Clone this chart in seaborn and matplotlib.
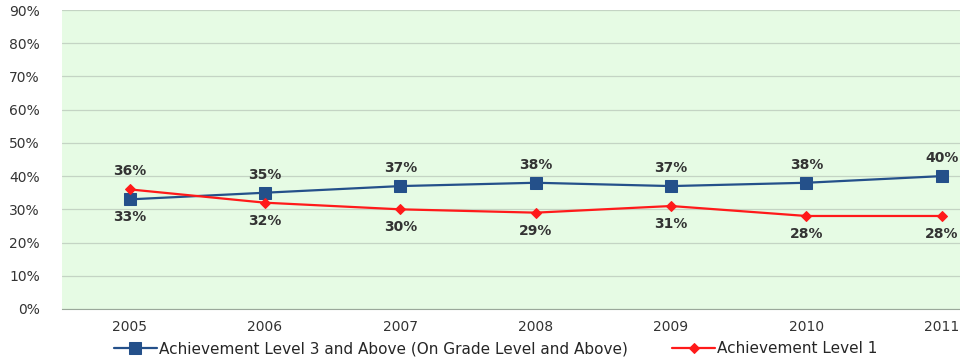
import pandas as pd
import matplotlib.pyplot as plt
import seaborn as sns
from matplotlib.ticker import PercentFormatter

years = ["2005", "2006", "2007", "2008", "2009", "2010", "2011"]
level3 = [33, 35, 37, 38, 37, 38, 40]
level1 = [36, 32, 30, 29, 31, 28, 28]
name3 = "Achievement Level 3 and Above (On Grade Level and Above)"
name1 = "Achievement Level 1"

data = pd.DataFrame({"Year": years, name3: level3, name1: level1})
data["pos"] = range(len(years))

sns.set_style("white")
plt.rcParams["font.family"] = ["DejaVu Sans"]

fig = plt.figure(figsize=(9.6, 3.58), dpi=100)
ax = fig.add_axes([62 / 960, 1 - 309 / 358, (960 - 62) / 960, 299 / 358])
ax.set_facecolor("#e6fbe4")

blue = "#24508a"
red = "#ff1a1a"
sns.lineplot(data=data, x="pos", y=name3, ax=ax, color=blue, marker="s",
             markersize=8, linewidth=1.6, markeredgecolor=blue, label=name3)
sns.lineplot(data=data, x="pos", y=name1, ax=ax, color=red, marker="D",
             markersize=5, linewidth=1.6, markeredgecolor=red, label=name1)

# data labels: the higher line gets labels above, the lower one below
for i in range(len(years)):
    a, b = level3[i], level1[i]
    up3 = a >= b
    ax.annotate(f"{a}%", (i, a), xytext=(0, 8 if up3 else -8), textcoords="offset points",
                ha="center", va="bottom" if up3 else "top", fontsize=10,
                fontweight="bold", color="#333333")
    ax.annotate(f"{b}%", (i, b), xytext=(0, -8 if up3 else 8), textcoords="offset points",
                ha="center", va="top" if up3 else "bottom", fontsize=10,
                fontweight="bold", color="#333333")

ax.set_xlim(-0.5, 6.135)
ax.set_ylim(0, 90)
ax.set_yticks(range(0, 91, 10))
ax.yaxis.set_major_formatter(PercentFormatter(decimals=0))
ax.set_xticks(data["pos"])
ax.set_xticklabels(years)
ax.tick_params(axis="both", labelsize=10, colors="#333333", length=0)
ax.tick_params(axis="x", pad=8)
ax.tick_params(axis="y", pad=16)
ax.grid(axis="y", color="#c4d4c4", linewidth=0.9)
for s in ["top", "right", "left"]:
    ax.spines[s].set_visible(False)
ax.spines["bottom"].set_color("#9aa89a")
ax.set_xlabel("")
ax.set_ylabel("")

ax.legend(loc="upper left", bbox_to_anchor=(114 / 960, 17 / 358), bbox_transform=fig.transFigure,
          ncol=2, frameon=False, fontsize=11, handlelength=2.8, columnspacing=2.9,
          handletextpad=0.15, borderaxespad=0, borderpad=0)

plt.savefig("out.png", dpi=100)
